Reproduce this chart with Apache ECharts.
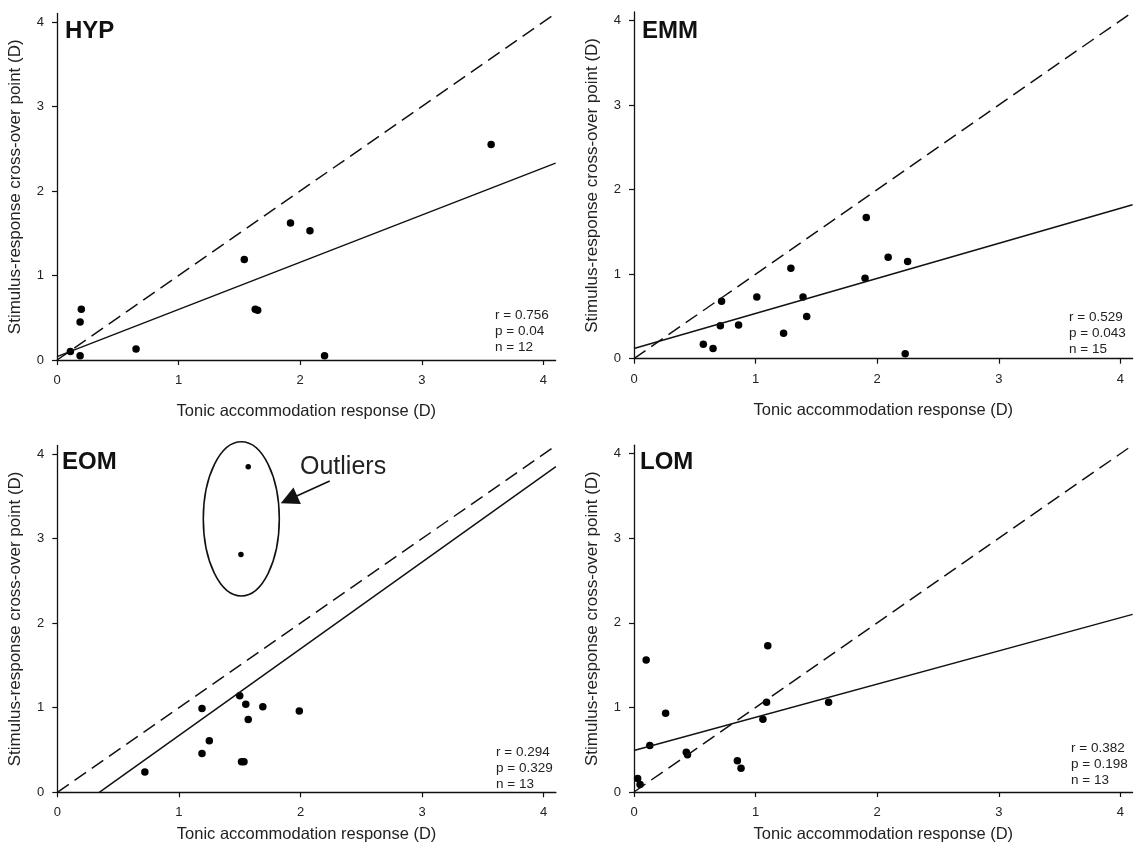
<!DOCTYPE html>
<html>
<head>
<meta charset="utf-8">
<title>Stimulus-response cross-over point vs tonic accommodation</title>
<script src="https://cdn.jsdelivr.net/npm/echarts@6/dist/echarts.min.js"></script>
<style>
  html, body { margin: 0; padding: 0; background: #fff; }
  #chart { width: 1137px; height: 855px; }
</style>
</head>
<body>
<div id="chart"></div>
<script>
// groups and their stats
const panelNames = ['HYP', 'EMM', 'EOM', 'LOM']
const statR = ['0.756', '0.529', '0.294', '0.382']
const statP = ['0.04', '0.043', '0.329', '0.198']
const statN = ['12', '15', '13', '13']
const tickValues = [0, 1, 2, 3, 4]

// tonic accommodation (x) / cross-over point (y), in D
const hypX = [0.11, 0.19, 0.19, 0.20, 0.65, 1.54, 1.63, 1.65, 1.92, 2.08, 2.20, 3.57]
const hypY = [0.10, 0.05, 0.45, 0.60, 0.13, 1.19, 0.60, 0.59, 1.62, 1.53, 0.05, 2.55]
const emmX = [0.57, 0.65, 0.72, 0.71, 0.86, 1.01, 1.23, 1.29, 1.39, 1.42, 1.90, 1.91, 2.09, 2.25, 2.23]
const emmY = [0.17, 0.12, 0.68, 0.39, 0.40, 0.73, 0.30, 1.07, 0.73, 0.50, 0.95, 1.67, 1.20, 1.15, 0.06]
const eomX = [0.72, 1.19, 1.19, 1.25, 1.50, 1.55, 1.57, 1.69, 1.99, 1.515, 1.535]
const eomY = [0.24, 0.46, 0.99, 0.61, 1.14, 1.04, 0.86, 1.01, 0.96, 0.36, 0.36]
const eomOutX = [1.51, 1.57]
const eomOutY = [2.81, 3.85]
const lomX = [0.03, 0.05, 0.10, 0.13, 0.26, 0.43, 0.44, 0.85, 0.88, 1.06, 1.09, 1.10, 1.60]
const lomY = [0.16, 0.09, 1.56, 0.55, 0.93, 0.47, 0.44, 0.37, 0.28, 0.86, 1.06, 1.73, 1.06]

// 1:1 line and regression lines (end points)
const identityLine = [[0, 0], [4.1, 4.1]]
const hypFit = [[0, 0.04], [4.1, 2.33]]
const emmFit = [[0, 0.12], [4.1, 1.82]]
const eomFit = [[0.345, 0], [4.1, 3.85]]
const lomFit = [[0, 0.49], [4.1, 2.10]]

// outlier ring (centre x, centre y, half width, half height) and arrow
const outlierRing = [[1.513, 3.233, 0.3125, 0.912]]
const outlierArrow = [[2.24, 3.68], [1.905, 3.462]]

const zip = (xs, ys) => xs.map((x, i) => [x, ys[i]])
const points = [zip(hypX, hypY), zip(emmX, emmY), zip(eomX, eomY), zip(lomX, lomY)]
const fits = [hypFit, emmFit, eomFit, lomFit]

const font = '"Liberation Sans", Arial, Helvetica, sans-serif'
const ink = '#111'

const grids = [
  { left: 57, top: 13.5, width: 498.6, height: 346.5 },
  { left: 634, top: 12, width: 498.6, height: 346.7 },
  { left: 57.3, top: 445.5, width: 498.6, height: 346.8 },
  { left: 634, top: 445.2, width: 498.6, height: 346.8 }
]
const xNameGap = [43, 43, 34, 34]
const labelPos = [[65, 31.5], [642, 31.5], [62, 462], [640, 462]]
const statPos = [[495, 307], [1069, 309], [496, 744], [1071, 740]]

const chartInstance = echarts.init(document.getElementById('chart'))

const xAxes = grids.map((g, i) => ({
  type: 'value', gridIndex: i, min: 0, max: 4.1, interval: 1,
  name: 'Tonic accommodation response (D)',
  nameLocation: 'middle', nameGap: xNameGap[i],
  nameTextStyle: { fontSize: 16.5, color: '#222', fontFamily: font },
  axisLine: { onZero: false, lineStyle: { color: ink, width: 1.3 } },
  axisTick: { customValues: tickValues, length: 5, lineStyle: { color: ink, width: 1.2 } },
  axisLabel: { customValues: tickValues, margin: 14, fontSize: 13, color: '#222', fontFamily: font },
  splitLine: { show: false }
}))

const yAxes = grids.map((g, i) => ({
  type: 'value', gridIndex: i, min: 0, max: 4.1, interval: 1,
  name: 'Stimulus-response cross-over point (D)',
  nameLocation: 'middle', nameGap: 33,
  nameTextStyle: { fontSize: 17, color: '#222', fontFamily: font },
  axisLine: { onZero: false, lineStyle: { color: ink, width: 1.3 } },
  axisTick: { customValues: tickValues, length: 5, lineStyle: { color: ink, width: 1.2 } },
  axisLabel: { customValues: tickValues, margin: 13, fontSize: 13, color: '#222', fontFamily: font },
  splitLine: { show: false }
}))

const series = []
grids.forEach((g, i) => {
  series.push({
    type: 'line', xAxisIndex: i, yAxisIndex: i, data: identityLine,
    showSymbol: false, silent: true,
    lineStyle: { color: ink, width: 1.5, type: [14, 7] }
  })
  series.push({
    type: 'line', xAxisIndex: i, yAxisIndex: i, data: fits[i],
    showSymbol: false, silent: true,
    lineStyle: { color: ink, width: 1.5 }
  })
  series.push({
    type: 'scatter', xAxisIndex: i, yAxisIndex: i, data: points[i],
    symbolSize: 7.5, itemStyle: { color: '#000', opacity: 1 }
  })
})

// outliers in EOM
series.push({
  type: 'scatter', xAxisIndex: 2, yAxisIndex: 2, data: zip(eomOutX, eomOutY),
  symbolSize: 5.5, itemStyle: { color: '#000', opacity: 1 }
})
series.push({
  type: 'custom', xAxisIndex: 2, yAxisIndex: 2, data: outlierRing, silent: true,
  renderItem: (params, api) => {
    const c = api.coord([api.value(0), api.value(1)])
    const s = api.size([api.value(2), api.value(3)])
    return {
      type: 'ellipse',
      shape: { cx: c[0], cy: c[1], rx: s[0], ry: s[1] },
      style: { fill: 'none', stroke: ink, lineWidth: 1.6 }
    }
  }
})
series.push({
  type: 'lines', coordinateSystem: 'cartesian2d', xAxisIndex: 2, yAxisIndex: 2,
  silent: true, symbol: ['none', 'triangle'], symbolSize: 18,
  lineStyle: { color: ink, width: 1.6, opacity: 1 },
  itemStyle: { color: ink },
  data: [{ coords: outlierArrow }]
})

const graphic = []
panelNames.forEach((name, i) => {
  graphic.push({
    type: 'text', x: labelPos[i][0], y: labelPos[i][1],
    style: { text: name, fontSize: 24, fontWeight: 'bold', fontFamily: font, fill: '#111', verticalAlign: 'middle' }
  })
  graphic.push({
    type: 'text', x: statPos[i][0], y: statPos[i][1],
    style: {
      text: 'r = ' + statR[i] + '\np = ' + statP[i] + '\nn = ' + statN[i],
      fontSize: 13.5, lineHeight: 16, fontFamily: font, fill: '#222'
    }
  })
})
graphic.push({
  type: 'text', x: 300, y: 467,
  style: { text: 'Outliers', fontSize: 25, fontFamily: font, fill: '#222', verticalAlign: 'middle' }
})

chartInstance.setOption({
  animation: false,
  backgroundColor: '#fff',
  grid: grids,
  xAxis: xAxes,
  yAxis: yAxes,
  series: series,
  graphic: graphic
})
</script>
</body>
</html>
